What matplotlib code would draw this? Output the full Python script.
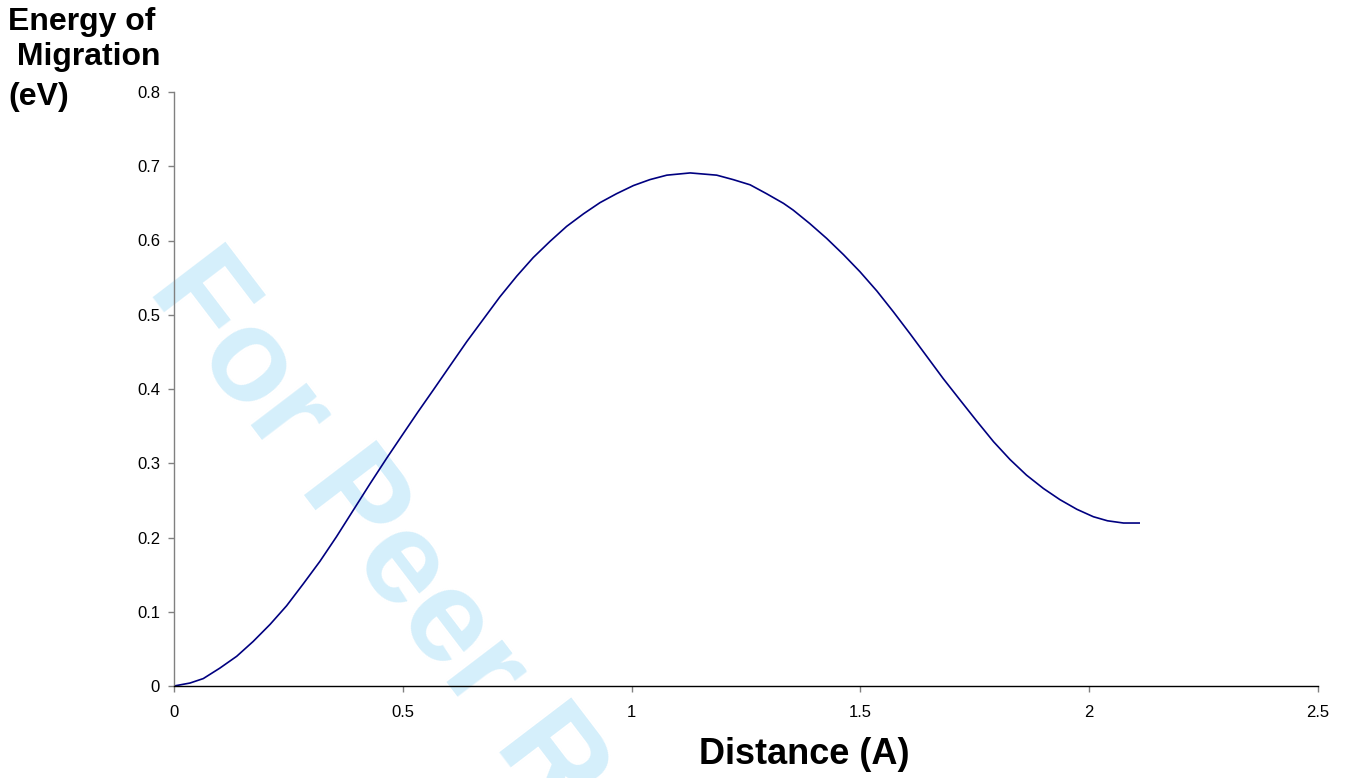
import matplotlib
matplotlib.use("Agg")
import matplotlib.pyplot as plt
from matplotlib.ticker import FixedLocator, FixedFormatter

plt.rcParams['font.family'] = ['Liberation Sans', 'DejaVu Sans']

distance = [0, 0.035, 0.064, 0.1, 0.137, 0.173, 0.21, 0.246, 0.283, 0.319,
            0.355, 0.392, 0.428, 0.465, 0.5, 0.533, 0.567, 0.604, 0.64, 0.676,
            0.712, 0.749, 0.785, 0.822, 0.858, 0.895, 0.931, 0.967, 1.004, 1.04,
            1.077, 1.128, 1.186, 1.222, 1.259, 1.295, 1.332, 1.353, 1.389, 1.426,
            1.463, 1.499, 1.536, 1.572, 1.609, 1.645, 1.681, 1.718, 1.754, 1.791,
            1.827, 1.863, 1.9, 1.936, 1.973, 2.009, 2.04, 2.075, 2.111]
energy = [0, 0.004, 0.010, 0.024, 0.040, 0.060, 0.083, 0.108, 0.138, 0.168,
          0.201, 0.237, 0.272, 0.307, 0.339, 0.369, 0.399, 0.432, 0.464, 0.494,
          0.524, 0.552, 0.577, 0.599, 0.619, 0.636, 0.651, 0.663, 0.674, 0.682,
          0.688, 0.691, 0.688, 0.682, 0.675, 0.663, 0.650, 0.641, 0.623, 0.603,
          0.581, 0.558, 0.532, 0.504, 0.474, 0.444, 0.414, 0.385, 0.357, 0.329,
          0.305, 0.284, 0.266, 0.251, 0.238, 0.228, 0.2225, 0.2195, 0.2195]

x_ticks = [0, 0.5, 1, 1.5, 2, 2.5]
x_tick_labels = ["0", "0.5", "1", "1.5", "2", "2.5"]
y_ticks = [0, 0.1, 0.2, 0.3, 0.4, 0.5, 0.6, 0.7, 0.8]
y_tick_labels = ["0", "0.1", "0.2", "0.3", "0.4", "0.5", "0.6", "0.7", "0.8"]

W, H = 1349, 778
fig = plt.figure(figsize=(W / 100, H / 100), dpi=100)
ax = fig.add_axes([174 / W, 1 - 686 / H, (1318 - 174) / W, (686 - 92) / H])
ax.set_facecolor('none')

# watermark behind everything
fig.text(146.5 / W, 1 - 289 / H, "For Peer Review", rotation=-52.7,
         rotation_mode='anchor', ha='left', va='baseline',
         fontsize=95, fontweight='bold', color='#d5effb', zorder=-5)

ax.plot(distance, energy, color='#000080', lw=1.2,
        solid_joinstyle='round', solid_capstyle='butt')

ax.set_xlim(0, 2.5)
ax.set_ylim(0, 0.8)
ax.xaxis.set_major_locator(FixedLocator(x_ticks))
ax.xaxis.set_major_formatter(FixedFormatter(x_tick_labels))
ax.yaxis.set_major_locator(FixedLocator(y_ticks))
ax.yaxis.set_major_formatter(FixedFormatter(y_tick_labels))

for s in ('top', 'right'):
    ax.spines[s].set_visible(False)
ax.spines['left'].set_color('#808080')
ax.spines['bottom'].set_color('black')
ax.spines['left'].set_linewidth(1.0)
ax.spines['bottom'].set_linewidth(1.0)

ax.tick_params(axis='y', direction='out', length=4, width=1, color='#808080',
               labelsize=12, pad=6, labelcolor='black')
ax.tick_params(axis='x', direction='out', length=4, width=1, color='#808080',
               labelsize=12, pad=10, labelcolor='black')

fig.text(8 / W, 1 - 22 / H, "Energy of", ha='left', va='center',
         fontsize=23, fontweight='bold')
fig.text(8 / W, 1 - 57 / H, " Migration", ha='left', va='center',
         fontsize=23, fontweight='bold')
fig.text(8 / W, 1 - 97 / H, "(eV)", ha='left', va='center',
         fontsize=23, fontweight='bold')

fig.text(804 / W, 1 - 755 / H, "Distance (A)", ha='center', va='center',
         fontsize=26, fontweight='bold')

fig.savefig("out.png", dpi=100)
